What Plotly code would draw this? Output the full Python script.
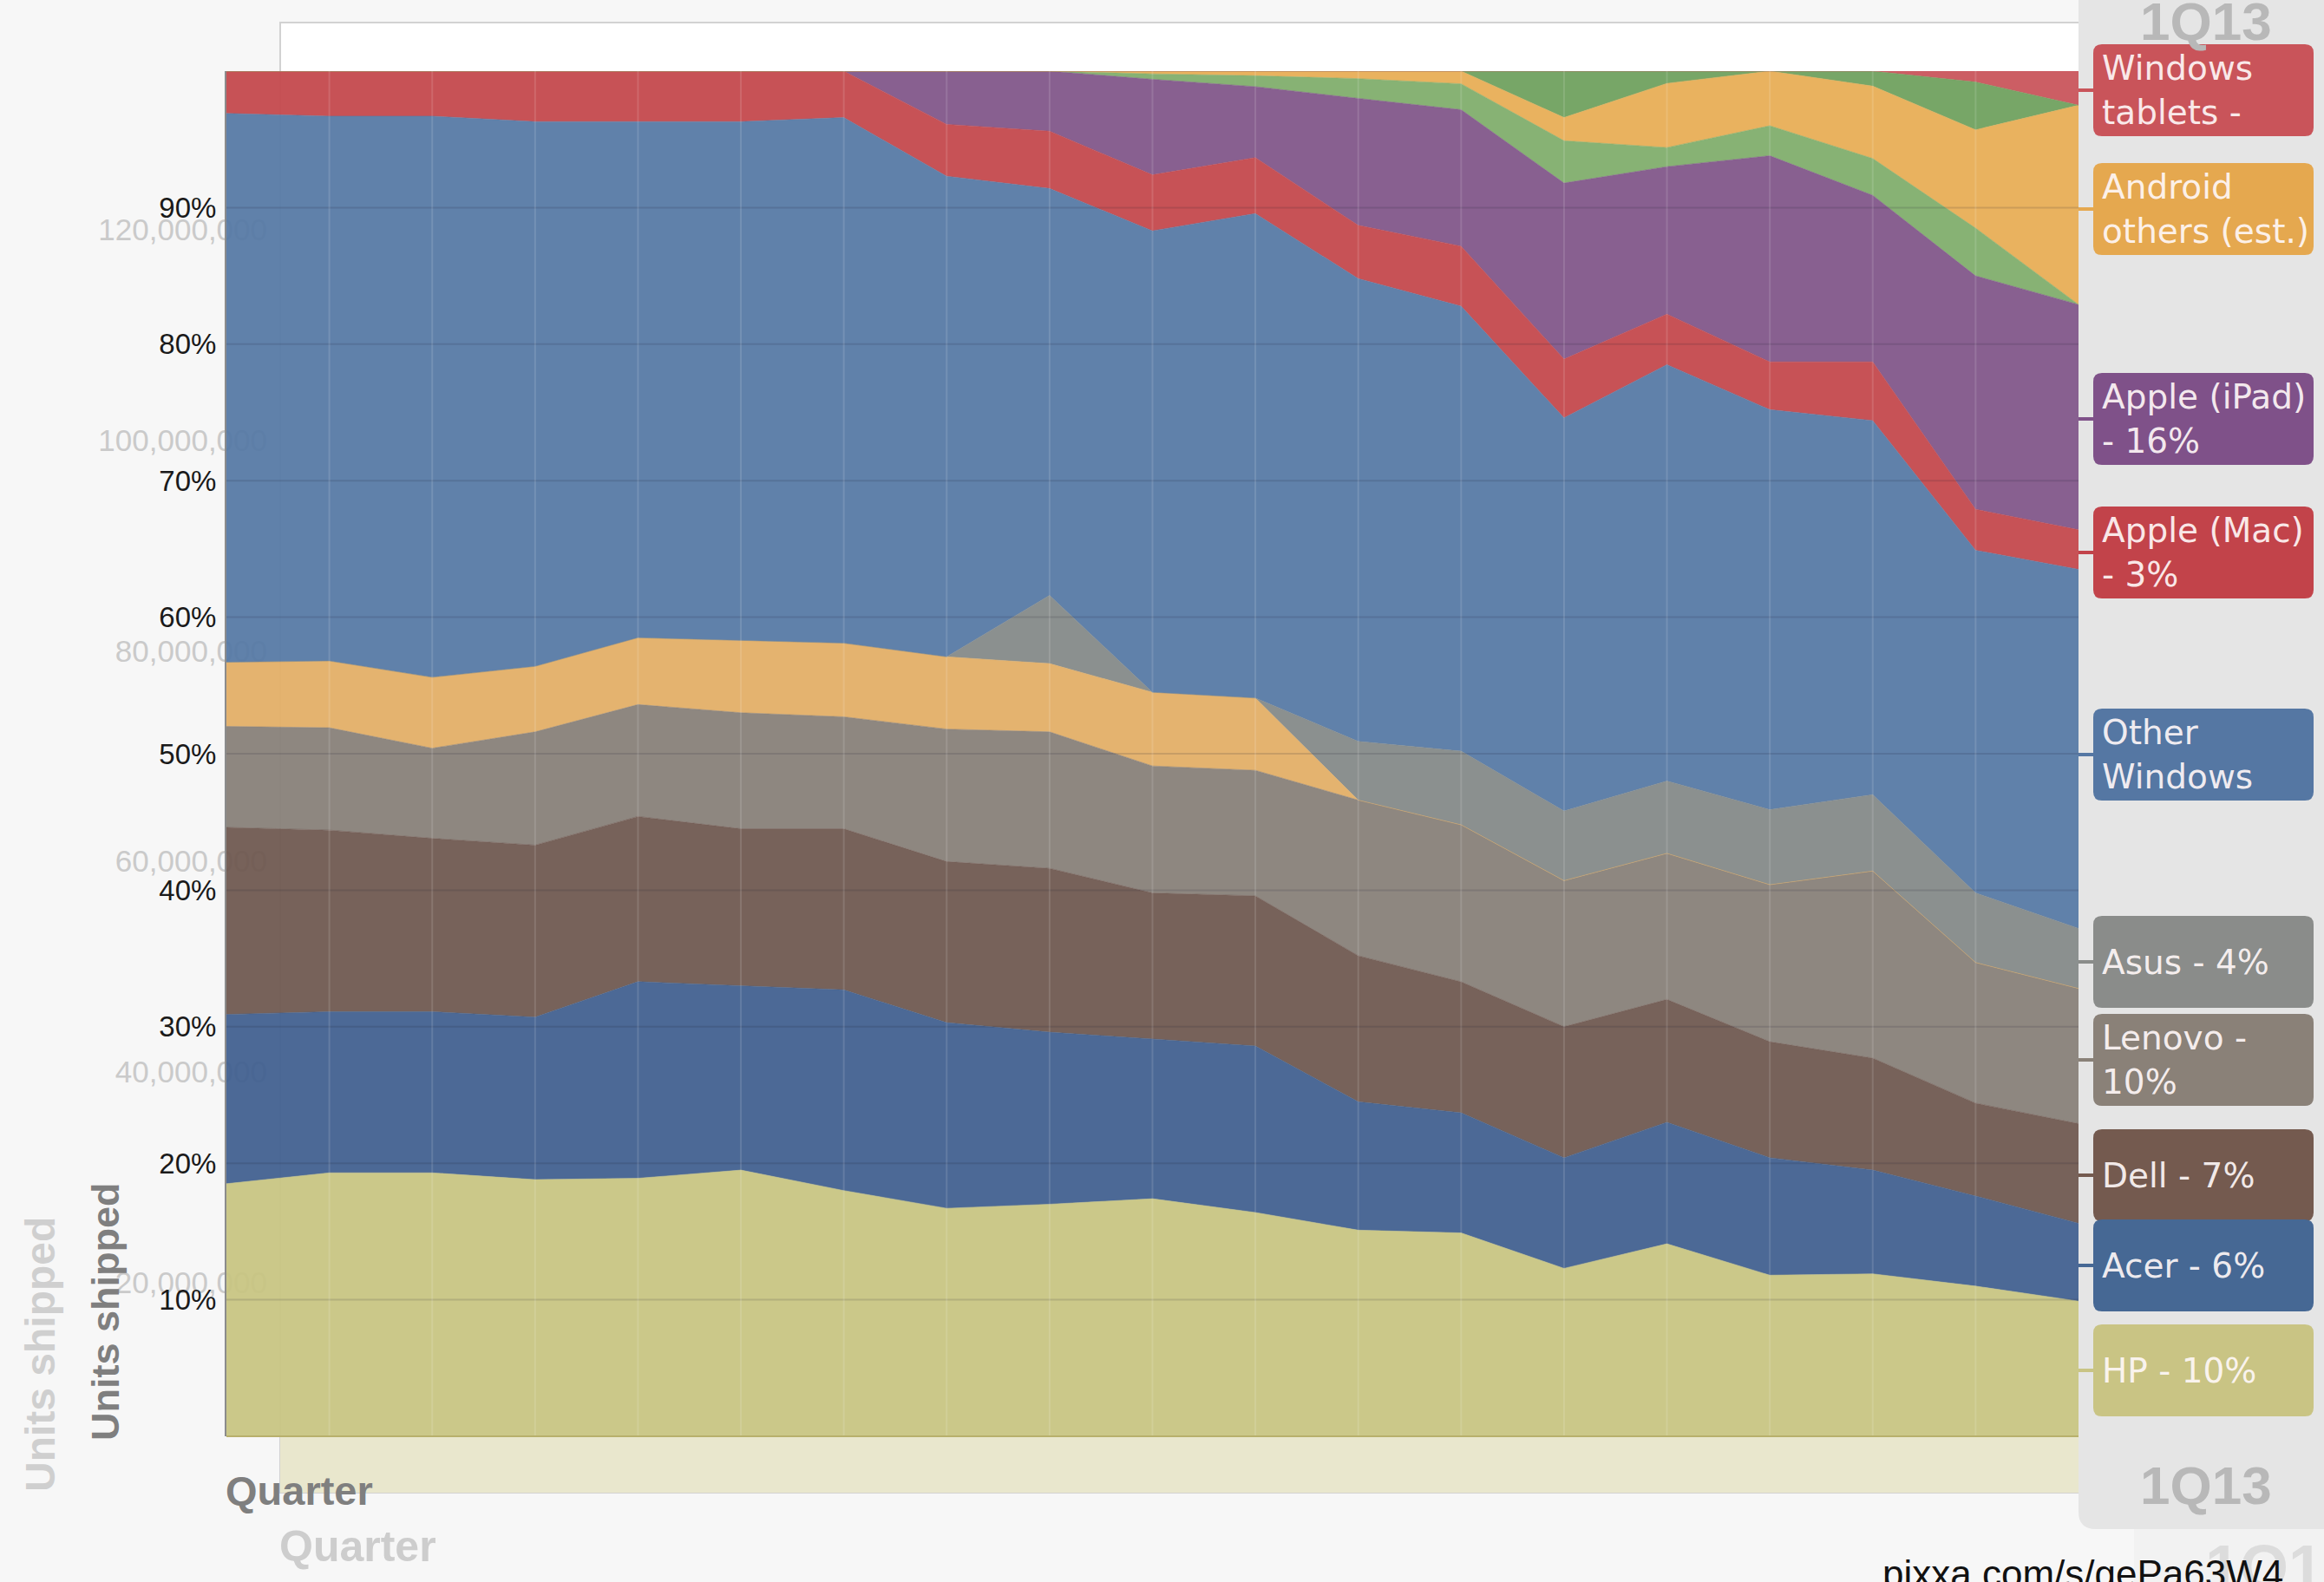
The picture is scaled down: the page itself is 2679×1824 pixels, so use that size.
import plotly.graph_objects as go

W, H = 2679, 1824

quarters = ["3Q08", "4Q08", "1Q09", "2Q09", "3Q09", "4Q09", "1Q10", "2Q10", "3Q10", "4Q10",
            "1Q11", "2Q11", "3Q11", "4Q11", "1Q12", "2Q12", "3Q12", "4Q12", "1Q13"]

# share of units shipped, % (stack order bottom -> top)
hp = [18.5, 19.3, 19.3, 18.8, 18.9, 19.5, 18.0, 16.7, 17.0, 17.4, 16.4, 15.1, 14.9, 12.3, 14.1, 11.8, 11.9, 11.0, 9.9]
acer = [12.4, 11.8, 11.8, 11.9, 14.4, 13.5, 14.7, 13.6, 12.6, 11.7, 12.2, 9.4, 8.8, 8.1, 8.9, 8.6, 7.6, 6.6, 5.7]
dell = [13.7, 13.3, 12.7, 12.6, 12.1, 11.5, 11.8, 11.8, 12.0, 10.7, 11.0, 10.7, 9.6, 9.6, 9.0, 8.5, 8.2, 6.8, 7.3]
lenovo = [7.4, 7.5, 6.6, 8.3, 8.2, 8.5, 8.2, 9.7, 10.0, 9.3, 9.2, 11.4, 11.5, 10.7, 10.7, 11.5, 13.7, 10.3, 9.9]
toshiba = [4.7, 4.9, 5.2, 4.8, 4.9, 5.3, 5.4, 5.3, 5.0, 5.4, 5.3, 0, 0, 0, 0, 0, 0, 0, 0]
asus = [0, 0, 0, 0, 0, 0, 0, 0, 5.0, 0, 0, 4.3, 5.4, 5.1, 5.3, 5.5, 5.6, 5.1, 4.4]
other_windows = [40.2, 39.9, 41.1, 39.9, 37.8, 38.0, 38.5, 35.2, 29.8, 33.8, 35.5, 33.9, 32.6, 28.8, 30.5, 29.3, 27.4, 25.1, 26.3]
apple_mac = [3.1, 3.3, 3.3, 3.7, 3.7, 3.7, 3.4, 3.8, 4.2, 4.1, 4.1, 3.9, 4.4, 4.3, 3.7, 3.5, 4.3, 3.0, 2.9]
apple_ipad = [0, 0, 0, 0, 0, 0, 0, 3.9, 4.4, 7.0, 5.2, 9.3, 10.0, 12.9, 10.8, 15.1, 12.2, 17.1, 16.5]
samsung = [0, 0, 0, 0, 0, 0, 0, 0, 0, 0.4, 0.8, 1.45, 1.9, 3.1, 1.4, 2.2, 2.7, 3.5, 0]
android_others = [0, 0, 0, 0, 0, 0, 0, 0, 0, 0.2, 0.34, 0.55, 0.93, 1.7, 4.7, 4.0, 5.3, 7.2, 14.6]
kindle_fire = [0, 0, 0, 0, 0, 0, 0, 0, 0, 0, 0, 0, 0, 3.4, 0.9, 0, 1.1, 3.5, 0]
windows_tablets = [0, 0, 0, 0, 0, 0, 0, 0, 0, 0, 0, 0, 0, 0, 0, 0, 0, 0.8, 2.5]

series_names = ["HP", "Acer", "Dell", "Lenovo", "Toshiba", "Asus", "Other Windows", "Apple (Mac)",
                "Apple (iPad)", "Samsung", "Android others (est.)", "Amazon Kindle Fire", "Windows tablets"]
series_values = [hp, acer, dell, lenovo, toshiba, asus, other_windows, apple_mac, apple_ipad,
                 samsung, android_others, kindle_fire, windows_tablets]
series_colors = ["#c8c582", "#41608f", "#6e5850", "#877f78", "#e2ae66", "#848988", "#5679a5",
                 "#c4474b", "#815689", "#80ad6b", "#e8ad55", "#6fa05d", "#c9545a"]

pct_ticks = [10, 20, 30, 40, 50, 60, 70, 80, 90]
pct_labels = ["10%", "20%", "30%", "40%", "50%", "60%", "70%", "80%", "90%"]
units_ticks = [20e6, 40e6, 60e6, 80e6, 100e6, 120e6]
units_labels = ["20,000,000", "40,000,000", "60,000,000", "80,000,000", "100,000,000", "120,000,000"]

label_texts = ["Windows<br>tablets -", "Android<br>others (est.)", "Apple (iPad)<br>- 16%",
               "Apple (Mac)<br>- 3%", "Other<br>Windows", "Asus - 4%", "Lenovo -<br>10%",
               "Dell - 7%", "Acer - 6%", "HP - 10%"]
label_colors = ["#c9545a", "#e5a84f", "#7f5189", "#c2434a", "#5577a3", "#8a8c8a", "#8a8178",
                "#745a4f", "#466894", "#c9c484"]
label_centers_px = [104, 241, 483, 637, 870, 1109, 1222, 1355, 1459, 1580]
latest_quarter = quarters[-1]

BOLD = "Liberation Sans, Arial, sans-serif"


def px_x(v):
    return v / W


def px_y(v):
    return (H - v) / H


def hexa(c, a):
    c = c.lstrip("#")
    return "rgba(%d,%d,%d,%.3f)" % (int(c[0:2], 16), int(c[2:4], 16), int(c[4:6], 16), a)


# plot geometry (pixels)
M_L, M_R, M_T, M_B = 261, 2396, 82, 1656
G_L, G_R, G_T, G_B = 323, 2600, 26, 1721

fig = go.Figure()

# ghost (background) chart subplot: only establishes its axes
fig.add_trace(go.Scatter(x=[], y=[], xaxis="x", yaxis="y", showlegend=False, hoverinfo="skip"))

for name, vals, col in zip(series_names, series_values, series_colors):
    fig.add_trace(go.Scatter(
        x=quarters, y=vals, name=name, stackgroup="one", groupnorm="percent",
        mode="lines", line=dict(width=0.6, color=hexa(col, 0.94)),
        fillcolor=hexa(col, 0.94), xaxis="x2", yaxis="y2", showlegend=False))

shapes = []
# ghost frame (white area) + yellow strip
shapes.append(dict(type="rect", xref="paper", yref="paper", layer="below",
                   x0=px_x(G_L), x1=px_x(G_R), y0=px_y(G_B), y1=px_y(G_T),
                   fillcolor="#ffffff", line=dict(color="#d2d2d2", width=2)))
shapes.append(dict(type="rect", xref="paper", yref="paper", layer="below",
                   x0=px_x(G_L), x1=px_x(G_R), y0=px_y(G_B), y1=px_y(M_B),
                   fillcolor="#e9e7cd", line=dict(width=0)))

# gridlines above fills
for v in pct_ticks:
    shapes.append(dict(type="line", xref="x2 domain", yref="y2", x0=0, x1=1, y0=v, y1=v,
                       layer="above", line=dict(color="rgba(30,30,50,0.14)", width=2)))
for q in quarters[1:-1]:
    shapes.append(dict(type="line", xref="x2", yref="y2 domain", x0=q, x1=q, y0=0, y1=1,
                       layer="above", line=dict(color="rgba(255,255,255,0.13)", width=2)))
# bottom edge line
shapes.append(dict(type="line", xref="x2 domain", yref="y2 domain", x0=0, x1=1, y0=0, y1=0,
                   layer="above", line=dict(color="#b8b06c", width=2)))

# ghost area lower-right with faint quarter label
shapes.append(dict(type="rect", xref="paper", yref="paper", layer="above",
                   x0=px_x(2460), x1=px_x(2800), y0=px_y(1880), y1=px_y(1720),
                   fillcolor="#f2f2f2", line=dict(width=0),
                   label=dict(text="<b>%s</b>" % latest_quarter, textposition="middle center",
                              font=dict(family=BOLD, size=72, color="#dcdcdc"))))

# right grey panel with rounded lower-left corner
px0, px1, pyb, r = 2396, 2679, 1763, 20
panel_path = "M {a},{t} L {b},{t} L {b},{yb} L {ar},{yb} Q {a},{yb} {a},{ybr} Z".format(
    a=px_x(px0), b=px_x(px1 + 5), t=px_y(-5), yb=px_y(pyb), ar=px_x(px0 + r), ybr=px_y(pyb - r))
shapes.append(dict(type="path", xref="paper", yref="paper", layer="above", path=panel_path,
                   fillcolor="#e5e5e5", line=dict(width=0)))

# label boxes
BX0, BX1, BH, BR = 2413, 2667, 106, 10


def rrect(x0, y0, x1, y1, rad):
    pts = ("M {a},{b} L {c},{b} Q {x1},{b} {x1},{d} L {x1},{e} Q {x1},{f} {c},{f} "
           "L {a},{f} Q {x0},{f} {x0},{e} L {x0},{d} Q {x0},{b} {a},{b} Z")
    return pts.format(a=px_x(x0 + rad), b=px_y(y0), c=px_x(x1 - rad), x1=px_x(x1), d=px_y(y0 + rad),
                      e=px_y(y1 - rad), f=px_y(y1), x0=px_x(x0))


annotations = []
for txt, col, cy in zip(label_texts, label_colors, label_centers_px):
    shapes.append(dict(type="line", xref="paper", yref="paper", layer="above",
                       x0=px_x(M_R), x1=px_x(BX0), y0=px_y(cy), y1=px_y(cy),
                       line=dict(color=col, width=4)))
    shapes.append(dict(type="path", xref="paper", yref="paper", layer="above",
                       path=rrect(BX0, cy - BH / 2, BX1, cy + BH / 2, BR),
                       fillcolor=col, line=dict(width=0)))
    annotations.append(dict(text=txt, xref="paper", yref="paper", x=px_x(BX0 + 8), y=px_y(cy),
                            xanchor="left", yanchor="middle", align="left", showarrow=False,
                            font=dict(family="DejaVu Sans", size=39, color="rgba(255,248,248,0.93)")))

# panel quarter labels
annotations.append(dict(text="<b>%s</b>" % latest_quarter, xref="paper", yref="paper",
                        x=px_x(2543), y=px_y(24), xanchor="center", yanchor="middle", showarrow=False,
                        font=dict(family=BOLD, size=62, color="#b8b8b8")))
annotations.append(dict(text="<b>%s</b>" % latest_quarter, xref="paper", yref="paper",
                        x=px_x(2543), y=px_y(1712), xanchor="center", yanchor="middle", showarrow=False,
                        font=dict(family=BOLD, size=62, color="#b8b8b8")))

# axis titles (ghost and main)
annotations.append(dict(text="<b>Units shipped</b>", xref="paper", yref="paper", textangle=-90,
                        x=px_x(46), y=px_y(1562), xanchor="center", yanchor="middle", showarrow=False,
                        font=dict(family=BOLD, size=48, color="#cfcfcf")))
annotations.append(dict(text="<b>Units shipped</b>", xref="paper", yref="paper", textangle=-90,
                        x=px_x(121), y=px_y(1512), xanchor="center", yanchor="middle", showarrow=False,
                        font=dict(family=BOLD, size=45, color="#7f7f7f")))
annotations.append(dict(text="<b>Quarter</b>", xref="paper", yref="paper",
                        x=px_x(G_L - 3), y=px_y(1783), xanchor="left", yanchor="middle", showarrow=False,
                        font=dict(family=BOLD, size=50, color="#cdcdcd")))
annotations.append(dict(text="<b>Quarter</b>", xref="paper", yref="paper",
                        x=px_x(M_L - 3), y=px_y(1718), xanchor="left", yanchor="middle", showarrow=False,
                        font=dict(family=BOLD, size=47, color="#7f7f7f")))
annotations.append(dict(text="pixxa.com/s/gePa63W4", xref="paper", yref="paper",
                        x=px_x(2168), y=px_y(1788), xanchor="left", yanchor="top", showarrow=False,
                        font=dict(family="Liberation Sans, Arial, sans-serif", size=44, color="#111111")))

fig.update_layout(
    width=W, height=H, margin=dict(l=0, r=0, t=0, b=0),
    paper_bgcolor="#f7f7f7", plot_bgcolor="rgba(0,0,0,0)",
    showlegend=False, hovermode=False,
    xaxis=dict(domain=[px_x(G_L), px_x(G_R)], anchor="y", visible=False, range=[0, 1]),
    yaxis=dict(domain=[px_y(G_B), px_y(G_T)], anchor="x", range=[0, 139.7e6],
               tickvals=units_ticks, ticktext=units_labels, showgrid=False, zeroline=False,
               showline=False, ticks="", ticklabelstandoff=14,
               tickfont=dict(family="Liberation Sans, Arial, sans-serif", size=35, color="#cacaca")),
    xaxis2=dict(domain=[px_x(M_L), px_x(M_R)], anchor="y2", type="category",
                range=[0, len(quarters) - 1], showticklabels=False, showgrid=False,
                zeroline=False, showline=False, ticks=""),
    yaxis2=dict(domain=[px_y(M_B), px_y(M_T)], anchor="x2", range=[0, 100],
                tickvals=pct_ticks, ticktext=pct_labels, showgrid=False, zeroline=False,
                showline=True, linecolor="#8c8c8c", linewidth=2, ticks="", ticklabelstandoff=3,
                tickfont=dict(family="Liberation Sans, Arial, sans-serif", size=33, color="#1a1a1a")),
    shapes=shapes, annotations=annotations,
)

fig.write_html("out.html", config={"displayModeBar": False},
               post_script="document.body.style.margin='0';document.body.style.overflow='hidden';")
